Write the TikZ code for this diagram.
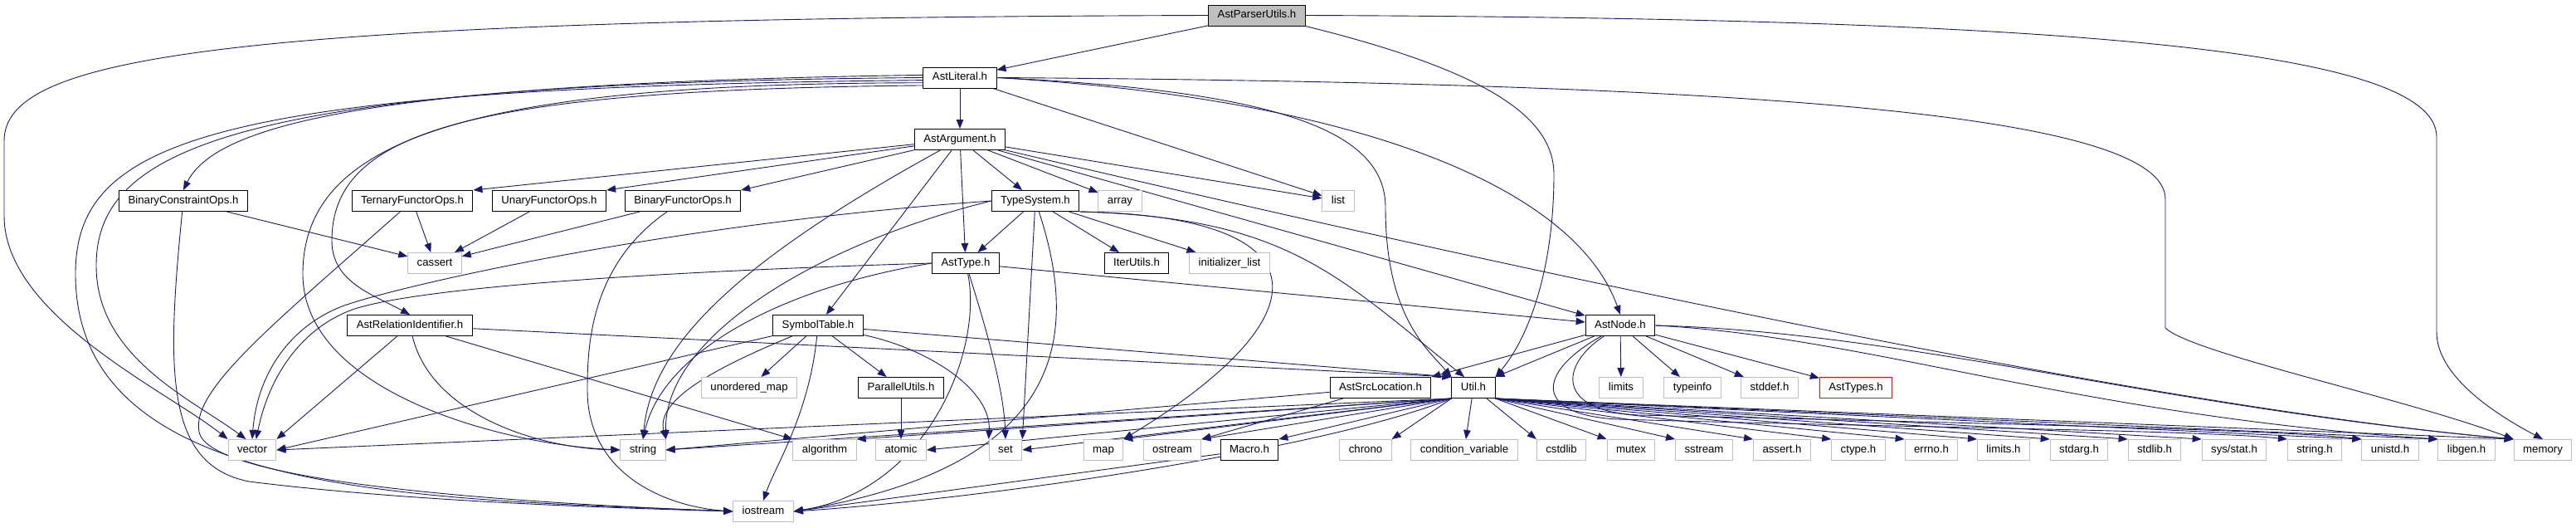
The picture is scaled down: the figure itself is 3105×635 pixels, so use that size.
\documentclass[tikz,border=0pt]{standalone}
\usepackage{fontspec}
\setmainfont{Liberation Sans}
\usetikzlibrary{arrows.meta}
\definecolor{edgeblue}{HTML}{191970}
\definecolor{boxgray}{HTML}{BFBFBF}
\pgfdeclarelayer{bg}
\pgfsetlayers{bg,main}

\begin{document}
\begin{tikzpicture}[x=1pt, y=-1pt,
    filebox/.style={draw=black, line width=1pt, fill=white, minimum height=25pt,
      inner xsep=11pt, inner ysep=0pt, text height=9.6pt, text depth=2.7pt,
      font=\fontsize{13.2}{15}\selectfont},
    sysbox/.style={filebox, draw=boxgray},
    rootbox/.style={filebox, fill=boxgray},
    redbox/.style={filebox, draw=red},
    inc/.style={draw=edgeblue, line width=0.9pt, -{Triangle[length=11pt,width=8.5pt]}}]
    \useasboundingbox (0,0) rectangle (3105,635);

    \node[rootbox] (root) at (1515,18.5) {AstParserUtils.h};
    \node[filebox] (lit) at (1157,93.5) {AstLiteral.h};
    \node[filebox] (arg) at (1157,168) {AstArgument.h};

    \node[filebox] (bco) at (221,242) {BinaryConstraintOps.h};
    \node[filebox] (tfo) at (497,242) {TernaryFunctorOps.h};
    \node[filebox] (ufo) at (662,242) {UnaryFunctorOps.h};
    \node[filebox] (bfo) at (823,242) {BinaryFunctorOps.h};
    \node[filebox] (ts) at (1248,242) {TypeSystem.h};
    \node[sysbox] (array) at (1350,242) {array};
    \node[sysbox] (list) at (1613,242) {list};

    \node[sysbox] (cassert) at (524,317) {cassert};
    \node[filebox] (atype) at (1164,317) {AstType.h};
    \node[filebox] (iter) at (1370,317) {IterUtils.h};
    \node[sysbox] (initlist) at (1482,317) {initializer\_list};

    \node[filebox] (rel) at (494,392) {AstRelationIdentifier.h};
    \node[filebox] (sym) at (986,392) {SymbolTable.h};
    \node[filebox] (anode) at (1953,392) {AstNode.h};

    \node[sysbox] (umap) at (903,467) {unordered\_map};
    \node[filebox] (par) at (1086,467) {ParallelUtils.h};
    \node[filebox] (src) at (1664,467) {AstSrcLocation.h};
    \node[filebox] (util) at (1776,467) {Util.h};
    \node[sysbox] (limits) at (1954,467) {limits};
    \node[sysbox] (typeinfo) at (2040,467) {typeinfo};
    \node[sysbox] (stddef) at (2133,467) {stddef.h};
    \node[redbox] (asttypes) at (2237,467) {AstTypes.h};

    % system headers along the bottom row, x in pixels of the 3105 wide graph
    \foreach \n/\x in {vector/304, string/775, algorithm/994, atomic/1086, set/1212,
        map/1330, ostream/1413, chrono/1646, cstdlib/1882, mutex/1966, sstream/2054, memory/3065}
      \node[sysbox] (\n) at (\x,542) {\n};
    \node[filebox] (macro) at (1506,542) {Macro.h};
    \node[sysbox] (condvar) at (1765,542) {condition\_variable};
    \foreach \n/\x/\t in {asserth/2148/assert.h, ctypeh/2240/ctype.h, errnoh/2328/errno.h,
        limitsh/2415/limits.h, stdargh/2506/stdarg.h, stdlibh/2597/stdlib.h,
        stringh/2790/string.h, unistdh/2881/unistd.h, libgenh/2973/libgen.h}
      \node[sysbox] (\n) at (\x,542) {\t};
    \node[sysbox] (sysstat) at (2693,542) {sys/stat.h};
    \node[sysbox] (iostream) at (920,616) {iostream};

    \begin{pgfonlayer}{bg}
    \draw[inc] (root) -- (lit);
    \draw[inc] (root.west) .. controls (250,22) and (5,70) .. (5,170) -- (5,260) .. controls (5,380) and (200,470) .. (vector.north west);
    \draw[inc] (root.east) .. controls (2500,22) and (2937,60) .. (2937,165) -- (2937,400) .. controls (2937,450) and (3000,495) .. (memory.north);
    \draw[inc] (root.south east) .. controls (1790,85) and (1873,140) .. (1873,210) .. controls (1873,330) and (1840,410) .. (util.north east);

    \draw[inc] (lit) -- (arg);
    \draw[inc] (lit) -- (list);
    \draw[inc] (lit.east) .. controls (2150,100) and (2610,140) .. (2610,240) -- (2610,395) .. controls (2640,425) and (2900,480) .. (memory.north west);
    \draw[inc] (lit.east) .. controls (1550,110) and (1670,160) .. (1670,250) .. controls (1670,380) and (1720,420) .. (util.north west);
    \draw[inc] (lit.east) .. controls (1650,120) and (1900,230) .. (anode.north);
    \draw[inc] (lit.176) .. controls (450,100) and (260,150) .. (bco.north);
    \draw[inc] (lit.180) .. controls (280,100) and (116,180) .. (116,320) .. controls (116,430) and (230,480) .. (vector.120);
    \draw[inc] (lit.184) .. controls (250,105) and (91,170) .. (91,330) .. controls (91,600) and (500,600) .. (iostream.west);
    \draw[inc] (lit.188) .. controls (560,100) and (365,170) .. (365,330) .. controls (365,470) and (600,535) .. (string.west);
    \draw[inc] (lit.192) .. controls (560,108) and (400,160) .. (400,290) .. controls (400,340) and (450,355) .. (rel.north);

    \draw[inc] (arg) -- (tfo.north east);
    \draw[inc] (arg) -- (ufo.north east);
    \draw[inc] (arg) -- (bfo.north east);
    \draw[inc] (arg) -- (ts);
    \draw[inc] (arg) -- (array);
    \draw[inc] (arg) -- (list);
    \draw[inc] (arg) -- (atype);
    \draw[inc] (arg) -- (sym);
    \draw[inc] (arg) -- (anode);
    \draw[inc] (arg) .. controls (880,320) and (785,420) .. (string.north);
    \draw[inc] (arg) .. controls (2100,390) and (2700,500) .. (memory.north west);

    \draw[inc] (bco) -- (cassert);
    \draw[inc] (bco) .. controls (200,450) and (200,560) .. (300,580) .. controls (500,605) and (750,612) .. (iostream.west);
    \draw[inc] (tfo) -- (cassert);
    \draw[inc] (tfo) .. controls (330,390) and (230,470) .. (240,520) .. controls (250,580) and (600,605) .. (iostream.west);
    \draw[inc] (ufo) -- (cassert);
    \draw[inc] (bfo) -- (cassert);
    \draw[inc] (bfo) .. controls (710,320) and (708,420) .. (708,470) .. controls (708,570) and (800,610) .. (iostream.west);

    \draw[inc] (ts) -- (atype);
    \draw[inc] (ts) -- (iter);
    \draw[inc] (ts) -- (initlist);
    \draw[inc] (ts) -- (set.north east);
    \draw[inc] (ts.south east) .. controls (1550,262) and (1610,330) .. (util.130);
    \draw[inc] (ts.south east) .. controls (1600,260) and (1600,380) .. (map.north east);
    \draw[inc] (ts) .. controls (1300,400) and (1290,560) .. (iostream.east);
    \draw[inc] (ts.west) .. controls (800,270) and (480,345) .. (415,368) .. controls (350,392) and (310,450) .. (vector.north);
    \draw[inc] (ts.west) .. controls (1000,290) and (800,400) .. (string.north east);

    \draw[inc] (atype) -- (anode);
    \draw[inc] (atype) .. controls (1185,420) and (1120,590) .. (iostream.east);
    \draw[inc] (atype) .. controls (1190,400) and (1210,470) .. (set.north);
    \draw[inc] (atype.west) .. controls (700,330) and (480,352) .. (422,374) .. controls (365,396) and (325,450) .. (vector.70);
    \draw[inc] (atype.west) .. controls (950,345) and (800,420) .. (string.north);

    \draw[inc] (rel) -- (vector.north east);
    \draw[inc] (rel) .. controls (520,500) and (650,540) .. (string.west);
    \draw[inc] (rel) -- (algorithm.north west);
    \draw[inc] (rel) -- (util.north west);

    \draw[inc] (sym) -- (vector.east);
    \draw[inc] (sym) .. controls (870,440) and (790,480) .. (string.north east);
    \draw[inc] (sym) -- (umap);
    \draw[inc] (sym) .. controls (975,500) and (935,560) .. (iostream.north);
    \draw[inc] (sym) -- (par);
    \draw[inc] (sym) .. controls (1120,420) and (1195,470) .. (set.north west);
    \draw[inc] (sym) -- (util.north west);

    \draw[inc] (anode) -- (src.north east);
    \draw[inc] (anode) -- (util.north east);
    \draw[inc] (anode) -- (limits);
    \draw[inc] (anode) -- (typeinfo);
    \draw[inc] (anode) -- (stddef);
    \draw[inc] (anode) -- (asttypes);
    \draw[inc] (anode.east) .. controls (2250,405) and (2500,500) .. (libgenh.north west);
    \draw[inc] (anode.east) .. controls (2300,400) and (2600,490) .. (memory.north west);
    \draw[inc] (anode) .. controls (1850,450) and (1850,500) .. (1950,505) .. controls (2300,515) and (2650,518) .. (stringh.north west);
    \draw[inc] (anode) .. controls (1880,440) and (1875,495) .. (1975,500) .. controls (2400,510) and (2750,518) .. (unistdh.north west);

    \draw[inc] (par) -- (atomic);
    \draw[inc] (src) -- (string.east);
    \draw[inc] (src) -- (ostream.north east);
    \draw[inc] (macro) -- (iostream.east);

    \foreach \t in {vector, string, atomic, set}
      \draw[inc] (util.south west) -- (\t.east);
    \foreach \t in {algorithm, map, ostream, macro, chrono}
      \draw[inc] (util.south west) -- (\t.north east);
    \draw[inc] (util) -- (condvar);
    \draw[inc] (util) -- (cstdlib.north west);
    \foreach \t in {mutex, sstream, asserth, ctypeh, errnoh, limitsh, stdargh,
        stdlibh, sysstat, unistdh, libgenh, memory}
      \draw[inc] (util.south east) -- (\t.north west);
    \draw[inc] (util.south west) .. controls (1600,540) and (1200,600) .. (iostream.east);
    \end{pgfonlayer}
\end{tikzpicture}
\end{document}
